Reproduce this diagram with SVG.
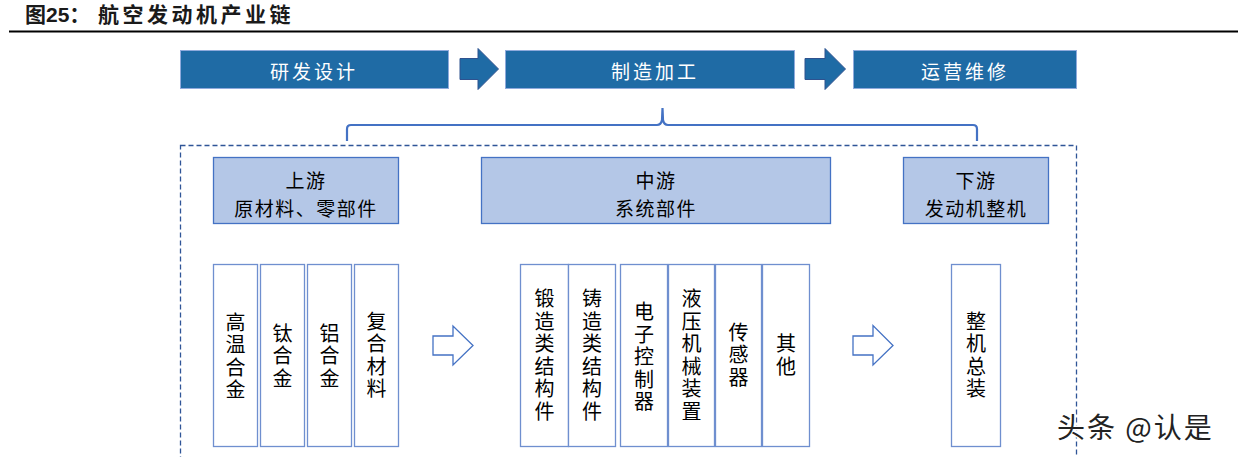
<svg xmlns="http://www.w3.org/2000/svg" width="1238" height="457" viewBox="0 0 1238 457">
<style>
.title{font-family:"Liberation Sans","Noto Sans CJK SC",sans-serif;font-weight:bold;font-size:21px;fill:#1a1a1a}
.top{fill:#1F6BA5;stroke:#8FAADC;stroke-width:1}
.toptxt{font-family:"Noto Sans CJK SC",sans-serif;font-size:19px;fill:#ffffff;text-anchor:middle;dominant-baseline:central;letter-spacing:3px}
.fat{fill:#1F6BA5;stroke:#2F528F;stroke-width:1}
.hdr{fill:#B4C7E7;stroke:#4472C4;stroke-width:1.3}
.hdrtxt{font-family:"Noto Sans CJK SC",sans-serif;font-size:19px;fill:#000;text-anchor:middle;dominant-baseline:central;letter-spacing:1.5px}
.col{fill:#ffffff;stroke:#6F8FCF;stroke-width:1.3}
.vt{font-family:"Noto Sans CJK SC",sans-serif;font-size:20px;fill:#000;text-anchor:middle;writing-mode:vertical-rl;letter-spacing:2.5px}
.hollow{fill:#ffffff;stroke:#4472C4;stroke-width:1.3}
.wm{font-family:"Noto Sans CJK SC",sans-serif;font-size:28px;fill:#222;letter-spacing:2px}
</style>
<rect width="1238" height="457" fill="#ffffff"/>
<g id="title">
<text class="title" x="25" y="22">图25：<tspan x="98" letter-spacing="3.5">航空发动机产业链</tspan></text>
<line x1="9" y1="31.5" x2="1238" y2="31.5" stroke="#000" stroke-width="2"/>
</g>
<g id="stage1"><rect class="top" x="180.5" y="50.5" width="268" height="38"/><text class="toptxt" x="314" y="70">研发设计</text></g>
<g id="stage2"><rect class="top" x="505.5" y="50.5" width="289" height="38"/><text class="toptxt" x="655" y="70">制造加工</text></g>
<g id="stage3"><rect class="top" x="853.5" y="50.5" width="223" height="38"/><text class="toptxt" x="965" y="70">运营维修</text></g>
<g id="connectors">
<path class="fat" d="M460,58.5 H478 V48.5 L498.5,69 L478,89.5 V79.5 H460 Z"/>
<path class="fat" d="M805,58.5 H825 V48.5 L845.5,69 L825,89.5 V79.5 H805 Z"/>
<path d="M347,141 V129 Q347,125 351,125 H657 Q661,125 662,120 L662.5,108 L663,120 Q664,125 668,125 H973 Q977,125 977,129 V141" fill="none" stroke="#4472C4" stroke-width="2.2"/>
<rect x="180.5" y="145.5" width="896" height="330" fill="none" stroke="#2F5597" stroke-width="1.3" stroke-dasharray="5,3"/>
<path class="hollow" d="M433,336 H453 V326 L473,345.5 L453,365 V355 H433 Z"/>
<path class="hollow" d="M853,336 H873 V325.5 L893,345.5 L873,365 V355 H853 Z"/>
</g>
<g id="upstream"><rect class="hdr" x="213.5" y="157.5" width="185" height="66"/><text class="hdrtxt" x="306" y="179">上游</text><text class="hdrtxt" x="306" y="207">原材料、零部件</text></g>
<g id="midstream"><rect class="hdr" x="481.5" y="157.5" width="349" height="66"/><text class="hdrtxt" x="656" y="179">中游</text><text class="hdrtxt" x="656" y="207">系统部件</text></g>
<g id="downstream"><rect class="hdr" x="903.5" y="157.5" width="145" height="66"/><text class="hdrtxt" x="976" y="179">下游</text><text class="hdrtxt" x="976" y="207">发动机整机</text></g>
<g id="c1"><rect class="col" x="213.5" y="264.5" width="44" height="182"/><text class="vt" x="235.5" y="357">高温合金</text></g>
<g id="c2"><rect class="col" x="260.5" y="264.5" width="44" height="182"/><text class="vt" x="282.5" y="357">钛合金</text></g>
<g id="c3"><rect class="col" x="307.5" y="264.5" width="44" height="182"/><text class="vt" x="329.5" y="357">铝合金</text></g>
<g id="c4"><rect class="col" x="354.5" y="264.5" width="44" height="182"/><text class="vt" x="376.5" y="356">复合材料</text></g>
<g id="m1"><rect class="col" x="520.5" y="264.5" width="48" height="182"/><text class="vt" x="544.5" y="356">锻造类结构件</text></g>
<g id="m2"><rect class="col" x="568.5" y="264.5" width="47" height="182"/><text class="vt" x="592" y="356">铸造类结构件</text></g>
<g id="m3"><rect class="col" x="620.5" y="264.5" width="47" height="182"/><text class="vt" x="644" y="358">电子控制器</text></g>
<g id="m4"><rect class="col" x="668.5" y="264.5" width="46" height="182"/><text class="vt" x="691.5" y="356">液压机械装置</text></g>
<g id="m5"><rect class="col" x="715.5" y="264.5" width="46" height="182"/><text class="vt" x="738.5" y="356">传感器</text></g>
<g id="m6"><rect class="col" x="762.5" y="264.5" width="47" height="182"/><text class="vt" x="786" y="356">其他</text></g>
<g id="d1"><rect class="col" x="951.5" y="264.5" width="49" height="182"/><text class="vt" x="976" y="356">整机总装</text></g>
<g id="watermark"><text class="wm" x="1057" y="438" stroke="#ffffff" stroke-width="3" paint-order="stroke">头条 @认是</text></g>
</svg>
